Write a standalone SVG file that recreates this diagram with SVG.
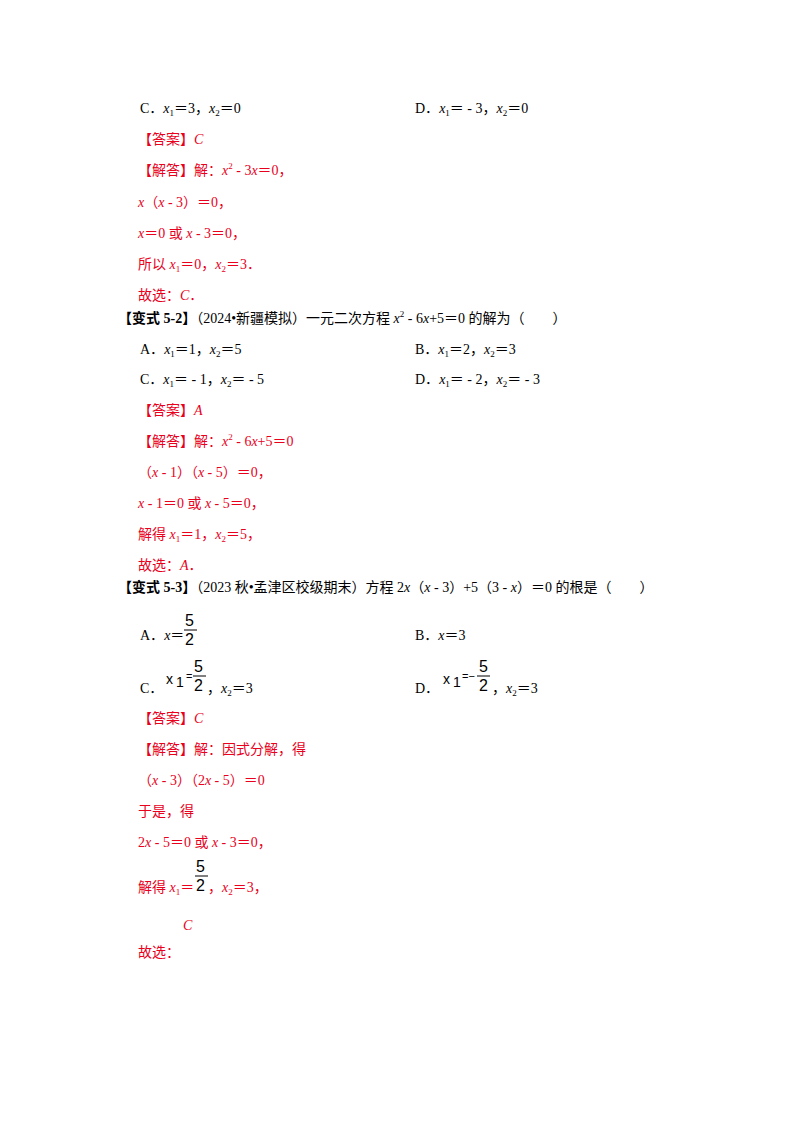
<svg xmlns="http://www.w3.org/2000/svg" width="800" height="1132" viewBox="0 0 800 1132">
<style>
text{font-family:"Liberation Serif","Noto Sans CJK SC",serif;font-size:14px;fill:#000}
.r{fill:#e8001c}
.b{font-weight:bold}
.i{font-style:italic}
.s{font-size:9px}
.f{font-family:"Liberation Sans","Noto Sans CJK SC",sans-serif;font-size:16px}
</style>
<rect width="800" height="1132" fill="#fff"/>
<text x="140" y="113">C．<tspan class="i">x</tspan><tspan class="s" dy="3">1</tspan><tspan dy="-3">＝3，</tspan><tspan class="i">x</tspan><tspan class="s" dy="3">2</tspan><tspan dy="-3">＝0</tspan></text>
<text x="415" y="113">D．<tspan class="i">x</tspan><tspan class="s" dy="3">1</tspan><tspan dy="-3">＝ - 3，</tspan><tspan class="i">x</tspan><tspan class="s" dy="3">2</tspan><tspan dy="-3">＝0</tspan></text>
<text x="138" y="144" class="r">【答案】<tspan class="i">C</tspan></text>
<text x="138" y="175" class="r">【解答】解：<tspan class="i">x</tspan><tspan class="s" dy="-6">2</tspan><tspan dy="6"> - 3</tspan><tspan class="i">x</tspan>＝0，</text>
<text x="138" y="207" class="r"><tspan class="i">x</tspan>（<tspan class="i">x</tspan> - 3）＝0，</text>
<text x="138" y="238" class="r"><tspan class="i">x</tspan>＝0 或 <tspan class="i">x</tspan> - 3＝0，</text>
<text x="138" y="269" class="r">所以 <tspan class="i">x</tspan><tspan class="s" dy="3">1</tspan><tspan dy="-3">＝0，</tspan><tspan class="i">x</tspan><tspan class="s" dy="3">2</tspan><tspan dy="-3">＝3．</tspan></text>
<text x="138" y="300" class="r">故选：<tspan class="i">C</tspan>．</text>
<text x="118" y="323"><tspan class="b">【变式 5-2】</tspan>（2024•新疆模拟）一元二次方程 <tspan class="i">x</tspan><tspan class="s" dy="-6">2</tspan><tspan dy="6"> - 6</tspan><tspan class="i">x</tspan>+5＝0 的解为（　　）</text>
<text x="140" y="354">A．<tspan class="i">x</tspan><tspan class="s" dy="3">1</tspan><tspan dy="-3">＝1，</tspan><tspan class="i">x</tspan><tspan class="s" dy="3">2</tspan><tspan dy="-3">＝5</tspan></text>
<text x="415" y="354">B．<tspan class="i">x</tspan><tspan class="s" dy="3">1</tspan><tspan dy="-3">＝2，</tspan><tspan class="i">x</tspan><tspan class="s" dy="3">2</tspan><tspan dy="-3">＝3</tspan></text>
<text x="140" y="384">C．<tspan class="i">x</tspan><tspan class="s" dy="3">1</tspan><tspan dy="-3">＝ - 1，</tspan><tspan class="i">x</tspan><tspan class="s" dy="3">2</tspan><tspan dy="-3">＝ - 5</tspan></text>
<text x="415" y="384">D．<tspan class="i">x</tspan><tspan class="s" dy="3">1</tspan><tspan dy="-3">＝ - 2，</tspan><tspan class="i">x</tspan><tspan class="s" dy="3">2</tspan><tspan dy="-3">＝ - 3</tspan></text>
<text x="138" y="415" class="r">【答案】<tspan class="i">A</tspan></text>
<text x="138" y="446" class="r">【解答】解：<tspan class="i">x</tspan><tspan class="s" dy="-6">2</tspan><tspan dy="6"> - 6</tspan><tspan class="i">x</tspan>+5＝0</text>
<text x="138" y="477" class="r">（<tspan class="i">x</tspan> - 1）（<tspan class="i">x</tspan> - 5）＝0，</text>
<text x="138" y="508" class="r"><tspan class="i">x</tspan> - 1＝0 或 <tspan class="i">x</tspan> - 5＝0，</text>
<text x="138" y="539" class="r">解得 <tspan class="i">x</tspan><tspan class="s" dy="3">1</tspan><tspan dy="-3">＝1，</tspan><tspan class="i">x</tspan><tspan class="s" dy="3">2</tspan><tspan dy="-3">＝5，</tspan></text>
<text x="138" y="570" class="r">故选：<tspan class="i">A</tspan>．</text>
<text x="118" y="592"><tspan class="b">【变式 5-3】</tspan>（2023 秋•孟津区校级期末）方程 2<tspan class="i">x</tspan>（<tspan class="i">x</tspan> - 3）+5（3 - <tspan class="i">x</tspan>）＝0 的根是（　　）</text>
<text x="140" y="640">A．<tspan class="i">x</tspan>＝</text>
<text x="185" y="626" class="f">5</text><line x1="184" y1="630" x2="197" y2="630" stroke="#000" stroke-width="1"/><text x="185" y="645" class="f">2</text>
<text x="415" y="640">B．<tspan class="i">x</tspan>＝3</text>
<text x="140" y="693">C．</text>
<text x="166" y="684" class="f" style="font-size:14px">x<tspan dx="3" dy="3">1</tspan></text>
<text x="186" y="680" class="f" style="font-size:11px">=</text>
<text x="194" y="672" class="f">5</text><line x1="193" y1="676" x2="206" y2="676" stroke="#000"/><text x="194" y="691" class="f">2</text>
<text x="207" y="693">，<tspan class="i">x</tspan><tspan class="s" dy="3">2</tspan><tspan dy="-3">＝3</tspan></text>
<text x="415" y="693">D．</text>
<text x="443" y="684" class="f" style="font-size:14px">x<tspan dx="3" dy="3">1</tspan></text>
<text x="462" y="680" class="f" style="font-size:11px">=−</text>
<text x="479" y="672" class="f">5</text><line x1="477" y1="676" x2="490" y2="676" stroke="#000"/><text x="479" y="691" class="f">2</text>
<text x="492" y="693">，<tspan class="i">x</tspan><tspan class="s" dy="3">2</tspan><tspan dy="-3">＝3</tspan></text>
<text x="138" y="723" class="r">【答案】<tspan class="i">C</tspan></text>
<text x="138" y="754" class="r">【解答】解：因式分解，得</text>
<text x="138" y="785" class="r">（<tspan class="i">x</tspan> - 3）（2<tspan class="i">x</tspan> - 5）＝0</text>
<text x="138" y="816" class="r">于是，得</text>
<text x="138" y="847" class="r">2<tspan class="i">x</tspan> - 5＝0 或 <tspan class="i">x</tspan> - 3＝0，</text>
<text x="138" y="892" class="r">解得 <tspan class="i">x</tspan><tspan class="s" dy="3">1</tspan><tspan dy="-3">＝</tspan></text>
<text x="196" y="872" class="f">5</text><line x1="195" y1="876" x2="208" y2="876" stroke="#000"/><text x="196" y="891" class="f">2</text>
<text x="208" y="892" class="r">，<tspan class="i">x</tspan><tspan class="s" dy="3">2</tspan><tspan dy="-3">＝3，</tspan></text>
<text x="183" y="930" class="r i">C</text>
<text x="138" y="957" class="r">故选：</text>
</svg>
